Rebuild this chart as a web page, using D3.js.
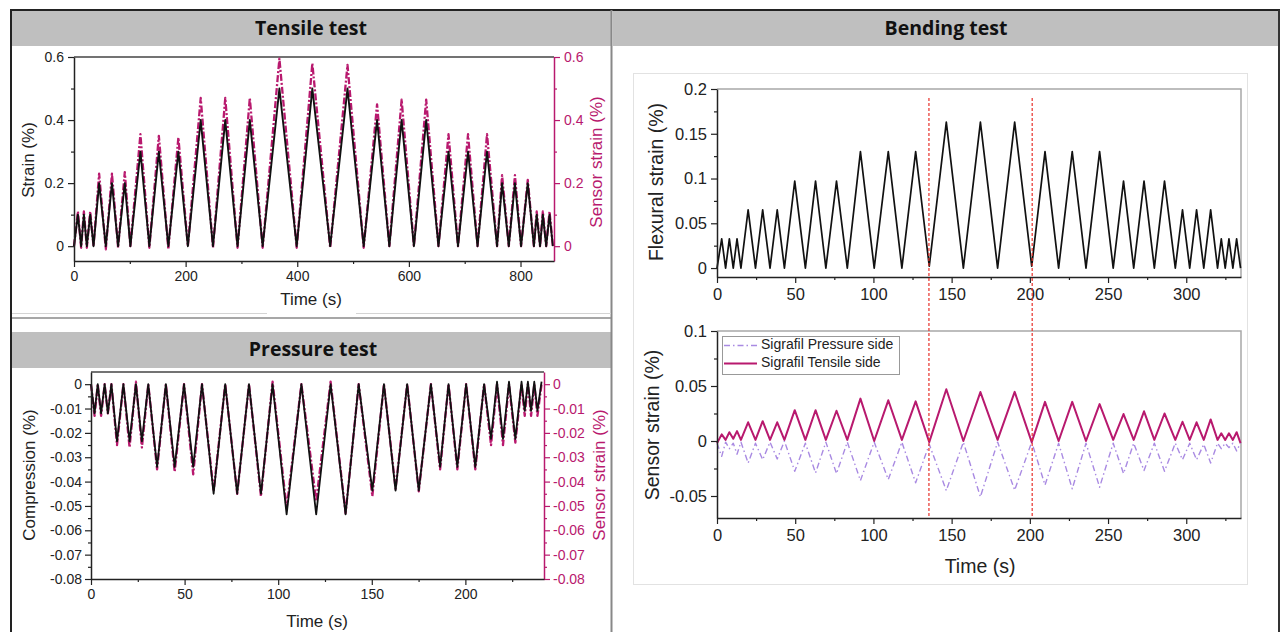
<!DOCTYPE html>
<html>
<head>
<meta charset="utf-8">
<script src="https://cdn.jsdelivr.net/npm/d3@7"></script>
<style>
  body { margin: 0; background: #fff; }
  svg { display: block; }
</style>
</head>
<body>
<div id="chart"></div>
<script>
// ---- Tensile test (vertices of the cycles) ----
const tensileTime   = [0, 7, 12.8, 17.7, 23, 29, 35, 45, 57, 68, 79, 91, 101, 119, 135, 152, 169, 187, 204,
  227, 249, 271, 293, 315, 338, 368, 399, 427, 459, 490, 519, 543, 565, 587, 609, 631, 653,
  671, 688, 706, 723, 740, 758, 767, 779, 790, 801, 813, 824, 829, 835, 840, 846, 852, 858];
const tensileStrain = [0, 0.10, 0, 0.10, 0, 0.10, 0, 0.20, 0, 0.20, 0, 0.20, 0, 0.30, 0, 0.30, 0, 0.30, 0,
  0.40, 0, 0.40, 0, 0.40, 0, 0.50, 0, 0.50, 0, 0.50, 0, 0.40, 0, 0.40, 0, 0.40, 0,
  0.30, 0, 0.30, 0, 0.30, 0, 0.20, 0, 0.20, 0, 0.20, 0, 0.10, 0, 0.10, 0, 0.10, 0];
const tensileSensor = [0, 0.11, -0.005, 0.11, -0.005, 0.11, 0, 0.23, -0.01, 0.23, -0.005, 0.235, 0, 0.355, -0.005, 0.35, -0.01, 0.345, 0,
  0.47, -0.005, 0.47, -0.005, 0.47, -0.005, 0.595, -0.005, 0.58, -0.005, 0.575, -0.005, 0.45, 0, 0.465, 0, 0.465, 0,
  0.355, 0, 0.355, 0, 0.355, 0, 0.225, 0, 0.225, 0, 0.21, 0, 0.11, 0, 0.11, 0, 0.11, 0];

// ---- Pressure test ----
const pressureTime  = [0, 1.9, 3.6, 5.4, 7.3, 9, 10.9, 13.9, 17.3, 20.6, 24, 27.2, 30.6, 35.3, 40, 44.7, 49.7, 54.6, 59.3,
  65.5, 71.7, 78.1, 84.4, 90.8, 97, 104.5, 112.4, 120.3, 128, 136, 143, 150.3, 156.5, 162.7, 168.9, 175.1, 181.6,
  186.5, 191, 195.7, 200.4, 205.3, 210, 213.7, 216.9, 220.1, 223.3, 226.7, 230, 231.7, 233.4, 235.1, 236.8, 238.5, 240.7];
const compression   = [0, -0.012, 0, -0.012, 0, -0.012, 0, -0.0235, 0, -0.0235, 0, -0.0235, 0, -0.034, 0, -0.034, 0, -0.034, 0,
  -0.045, 0, -0.045, 0, -0.045, 0, -0.0535, 0, -0.0535, 0, -0.0535, 0, -0.0437, 0, -0.0437, 0, -0.0437, 0,
  -0.034, 0, -0.034, 0, -0.034, 0, -0.0225, 0.001, -0.0225, 0.001, -0.0225, 0.001, -0.011, 0.001, -0.011, 0.001, -0.011, 0.001];
const pressureSensor = [0, -0.013, 0, -0.013, 0, -0.012, 0, -0.025, 0, -0.026, 0.001, -0.026, 0, -0.035, 0, -0.036, 0, -0.037, 0,
  -0.044, 0, -0.045, 0, -0.046, 0.001, -0.051, 0, -0.048, 0.001, -0.053, 0, -0.046, 0, -0.043, 0, -0.044, 0,
  -0.035, 0, -0.035, 0, -0.035, 0, -0.025, 0, -0.025, 0, -0.024, 0, -0.013, 0, -0.013, 0, -0.013, 0];

// ---- Bending test ----
const bendTime = [0, 3, 5.5, 7.9, 10.4, 12.8, 15.3, 19.9, 24.6, 29.2, 33.9, 38.5, 43.1, 49.7, 56.5, 63, 69.6, 76.4, 83.3,
  91.7, 100.5, 109.5, 118.2, 127, 135.7, 146.6, 157.5, 168.4, 179.4, 190.3, 201.2, 209.7, 218.4, 227.1, 235.9, 244.6, 253.3,
  259.9, 266.4, 273, 279.6, 286.1, 293, 297.6, 302.2, 306.6, 311.2, 315.6, 320, 322.4, 324.9, 327.3, 329.8, 332.2, 334.7];
const flexStrain = [0, 0.0325, 0, 0.0325, 0, 0.0325, 0, 0.065, 0, 0.065, 0, 0.065, 0, 0.097, 0, 0.097, 0, 0.097, 0,
  0.13, 0, 0.13, 0, 0.13, 0.002, 0.163, 0, 0.163, 0, 0.163, 0.002, 0.13, 0, 0.13, 0, 0.13, 0,
  0.097, 0, 0.097, 0, 0.097, 0, 0.065, 0, 0.065, 0, 0.065, 0, 0.0325, 0, 0.0325, 0, 0.0325, 0];
const tensileSide = [-0.002, 0.006, 0.001, 0.008, 0.002, 0.009, 0.001, 0.017, 0.001, 0.018, 0.001, 0.017, 0.001, 0.028, 0.001, 0.028, 0.001, 0.0275, 0.001,
  0.0385, 0, 0.037, 0.001, 0.036, -0.001, 0.047, 0, 0.0445, 0.001, 0.0447, -0.001, 0.0356, 0, 0.0356, 0, 0.0335, 0.001,
  0.0245, 0.001, 0.027, 0.001, 0.025, 0.001, 0.0175, 0.001, 0.017, 0.001, 0.0196, 0.001, 0.007, 0.001, 0.007, 0.001, 0.008, -0.002];
const pressureSide = [-0.002, -0.014, -0.001, -0.007, -0.002, -0.012, -0.001, -0.02, -0.002, -0.017, -0.001, -0.0163, 0, -0.0275, -0.002, -0.029, -0.001, -0.0296, -0.001,
  -0.036, -0.001, -0.035, -0.001, -0.038, -0.003, -0.045, -0.001, -0.0508, -0.001, -0.0447, -0.001, -0.04, -0.002, -0.0435, -0.002, -0.042, -0.002,
  -0.0296, -0.002, -0.0269, -0.002, -0.0275, -0.002, -0.017, -0.002, -0.017, -0.003, -0.02, -0.002, -0.007, -0.002, -0.006, -0.002, -0.009, -0.002];
const markerTimes = [135.5, 201.5];

// tick values
const tensileYTicks = [0, 0.2, 0.4, 0.6], tensileYMinor = [0.1, 0.3, 0.5];
const tensileXTicks = [0, 200, 400, 600, 800], tensileXMinor = [100, 300, 500, 700];
const pressureYTicks = [0, -0.01, -0.02, -0.03, -0.04, -0.05, -0.06, -0.07, -0.08];
const pressureYMinor = [-0.005, -0.015, -0.025, -0.035, -0.045, -0.055, -0.065, -0.075];
const pressureXTicks = [0, 50, 100, 150, 200], pressureXMinor = [25, 75, 125, 175, 225];
const flexYTicks = [0, 0.05, 0.1, 0.15, 0.2], flexYMinor = [0.025, 0.075, 0.125, 0.175];
const sensYTicks = [-0.05, 0, 0.05, 0.1], sensYMinor = [-0.025, 0.025, 0.075];
const bendXTicks = [0, 50, 100, 150, 200, 250, 300], bendXMinor = [25, 75, 125, 175, 225, 275, 325];

const MAG = '#b8196e', LAV = '#a98ae2', FONT = '"Liberation Sans", Arial, sans-serif';

const svg = d3.select('#chart').append('svg').attr('width', 1280).attr('height', 632);
svg.append('rect').attr('width', 1280).attr('height', 632).attr('fill', '#fff');

// ---- panel frames & headers ----
const headers = [
  {x: 12, y: 11, w: 599, h: 35, cx: 311, text: 'Tensile test'},
  {x: 12, y: 332, w: 599, h: 36, cx: 313, text: 'Pressure test'},
  {x: 613, y: 11, w: 665, h: 35, cx: 946, text: 'Bending test'}
];
svg.selectAll('rect.hdr').data(headers).enter().append('rect').attr('class', 'hdr')
  .attr('x', d => d.x).attr('y', d => d.y).attr('width', d => d.w).attr('height', d => d.h)
  .attr('fill', '#bfbfbf');
svg.selectAll('text.hdr').data(headers).enter().append('text').attr('class', 'hdr')
  .attr('x', d => d.cx).attr('y', d => d.y + d.h / 2 + 1).attr('text-anchor', 'middle')
  .attr('dominant-baseline', 'middle').attr('font-family', '"Open Sans", sans-serif')
  .attr('font-weight', 700).attr('font-size', 19.5).attr('fill', '#111').text(d => d.text);

svg.append('line').attr('x1', 10).attr('x2', 1280).attr('y1', 10).attr('y2', 10).attr('stroke', '#222').attr('stroke-width', 2);
svg.append('line').attr('x1', 11).attr('x2', 11).attr('y1', 10).attr('y2', 632).attr('stroke', '#222').attr('stroke-width', 2);
svg.append('line').attr('x1', 611.5).attr('x2', 611.5).attr('y1', 10).attr('y2', 632).attr('stroke', '#888').attr('stroke-width', 2);
svg.append('line').attr('x1', 1279).attr('x2', 1279).attr('y1', 10).attr('y2', 632).attr('stroke', '#333').attr('stroke-width', 2);
// separator under the tensile plot (light line broken behind the axis title)
svg.append('line').attr('x1', 12).attr('x2', 267).attr('y1', 313.5).attr('y2', 313.5).attr('stroke', '#d4d4d4');
svg.append('line').attr('x1', 356).attr('x2', 611).attr('y1', 313.5).attr('y2', 313.5).attr('stroke', '#d4d4d4');
svg.append('line').attr('x1', 12).attr('x2', 611).attr('y1', 318).attr('y2', 318).attr('stroke', '#8a8a8a').attr('stroke-width', 1.5);
svg.append('rect').attr('x', 633.5).attr('y', 73.5).attr('width', 614).attr('height', 511)
  .attr('fill', 'none').attr('stroke', '#e2e2e2');

const fmt = d => String(+d.toFixed(3));

function drawAxis(g, scale, orient, pos, major, minor, color, size, pad) {
  const mk = {left: d3.axisLeft, right: d3.axisRight, bottom: d3.axisBottom}[orient];
  const tr = orient === 'bottom' ? `translate(0,${pos})` : `translate(${pos},0)`;
  g.append('g').attr('transform', tr)
    .call(mk(scale).tickValues(minor).tickSize(3).tickSizeOuter(0).tickFormat(''))
    .call(a => a.select('.domain').remove())
    .call(a => a.selectAll('line').attr('stroke', color).attr('stroke-width', 1.2));
  const ax = g.append('g').attr('transform', tr)
    .call(mk(scale).tickValues(major).tickSize(6).tickSizeOuter(0).tickPadding(pad).tickFormat(fmt));
  ax.select('.domain').attr('stroke', color).attr('stroke-width', 1.5);
  ax.selectAll('line').attr('stroke', color).attr('stroke-width', 1.2);
  ax.selectAll('text').attr('fill', color).attr('font-family', FONT).attr('font-size', size);
}

function label(text, x, y, size, color, rot) {
  svg.append('text').attr('transform', `translate(${x},${y})` + (rot ? ' rotate(-90)' : ''))
    .attr('text-anchor', 'middle').attr('dominant-baseline', 'middle')
    .attr('font-family', FONT).attr('font-size', size).attr('fill', color).text(text);
}

function series(times, vals) {
  return times.map((t, i) => ({t: t, v: vals[i]}));
}

function plotLine(g, x, y, data, color, width, dash) {
  const line = d3.line().x(d => x(d.t)).y(d => y(d.v));
  g.append('path').datum(data).attr('d', line).attr('fill', 'none')
    .attr('stroke', color).attr('stroke-width', width)
    .attr('stroke-linejoin', 'round').attr('stroke-dasharray', dash || null);
}

// ---- Tensile plot ----
{
  const x = d3.scaleLinear().domain([0, 860]).range([74, 554]);
  const y = d3.scaleLinear().domain([-0.047, 0.6]).range([261, 57]);
  const g = svg.append('g');
  g.append('line').attr('x1', 74).attr('x2', 554).attr('y1', 57).attr('y2', 57).attr('stroke', '#444').attr('stroke-width', 1.5);
  plotLine(g, x, y, series(tensileTime, tensileSensor), MAG, 2.3, '7,2,2,2');
  plotLine(g, x, y, series(tensileTime, tensileStrain), '#111', 1.9);
  drawAxis(g, y, 'left', 74, tensileYTicks, tensileYMinor, '#222', 14, 4);
  drawAxis(g, y, 'right', 554, tensileYTicks, tensileYMinor, MAG, 14, 4);
  drawAxis(g, x, 'bottom', 261, tensileXTicks, tensileXMinor, '#222', 14, 4);
  label('Strain (%)', 30, 160, 17, '#222', true);
  label('Sensor strain (%)', 598, 162, 17, MAG, true);
  label('Time (s)', 311, 301, 17, '#222');
}

// ---- Pressure plot ----
{
  const x = d3.scaleLinear().domain([0, 242]).range([91, 544]);
  const y = d3.scaleLinear().domain([-0.08, 0.005]).range([579, 372]);
  const g = svg.append('g');
  g.append('line').attr('x1', 91).attr('x2', 544).attr('y1', 372).attr('y2', 372).attr('stroke', '#444').attr('stroke-width', 1.5);
  plotLine(g, x, y, series(pressureTime, pressureSensor), MAG, 2.3, '7,2,2,2');
  plotLine(g, x, y, series(pressureTime, compression), '#111', 1.8);
  drawAxis(g, y, 'left', 91, pressureYTicks, pressureYMinor, '#222', 14, 3);
  drawAxis(g, y, 'right', 544, pressureYTicks, pressureYMinor, MAG, 14, 3);
  drawAxis(g, x, 'bottom', 579, pressureXTicks, pressureXMinor, '#222', 14, 4);
  label('Compression (%)', 31, 475, 17, '#222', true);
  label('Sensor strain (%)', 601, 475, 17, MAG, true);
  label('Time (s)', 317, 623, 17, '#222');
}

// ---- Bending plots ----
{
  const x = d3.scaleLinear().domain([0, 335]).range([717, 1241]);
  const yTop = d3.scaleLinear().domain([-0.01, 0.2]).range([277, 89]);
  const yBot = d3.scaleLinear().domain([-0.07, 0.1]).range([518, 331]);
  const g = svg.append('g');

  [[89, 277], [331, 518]].forEach(([top, bot]) => {
    g.append('path').attr('d', `M717,${top}H1241V${bot}`).attr('fill', 'none')
      .attr('stroke', '#a8a8a8').attr('stroke-width', 1.5);
  });

  plotLine(g, x, yTop, series(bendTime, flexStrain), '#111', 1.7);
  plotLine(g, x, yBot, series(bendTime, pressureSide), LAV, 1.4, '6,3,1.5,3');
  plotLine(g, x, yBot, series(bendTime, tensileSide), MAG, 2);

  drawAxis(g, yTop, 'left', 717, flexYTicks, flexYMinor, '#222', 16.5, 4);
  drawAxis(g, x, 'bottom', 277, bendXTicks, bendXMinor, '#222', 16.5, 5);
  drawAxis(g, yBot, 'left', 717, sensYTicks, sensYMinor, '#222', 16.5, 4);
  drawAxis(g, x, 'bottom', 518, bendXTicks, bendXMinor, '#222', 16.5, 5);

  g.selectAll('line.marker').data(markerTimes).enter().append('line').attr('class', 'marker')
    .attr('x1', d => x(d)).attr('x2', d => x(d))
    .attr('y1', yTop(0.19)).attr('y2', yBot(-0.07))
    .attr('stroke', '#e8302a').attr('stroke-width', 1.2).attr('stroke-dasharray', '3,2');

  // legend
  const lg = g.append('g');
  lg.append('rect').attr('x', 722.5).attr('y', 336.5).attr('width', 177).attr('height', 38)
    .attr('fill', '#fff').attr('stroke', '#999');
  const items = [
    {name: 'Sigrafil Pressure side', color: LAV, dash: '6,3,1.5,3', w: 1.4},
    {name: 'Sigrafil Tensile side', color: MAG, dash: null, w: 2}
  ];
  items.forEach((it, i) => {
    const yy = 345.5 + i * 18;
    lg.append('line').attr('x1', 724).attr('x2', 757).attr('y1', yy).attr('y2', yy)
      .attr('stroke', it.color).attr('stroke-width', it.w).attr('stroke-dasharray', it.dash);
    lg.append('text').attr('x', 761).attr('y', yy).attr('dominant-baseline', 'middle')
      .attr('font-family', FONT).attr('font-size', 14).attr('fill', '#222').text(it.name);
  });

  label('Flexural strain (%)', 658, 182, 19.5, '#222', true);
  label('Sensor strain (%)', 654, 425, 19.5, '#222', true);
  label('Time (s)', 980, 568, 19.5, '#222');
}
</script>
</body>
</html>
